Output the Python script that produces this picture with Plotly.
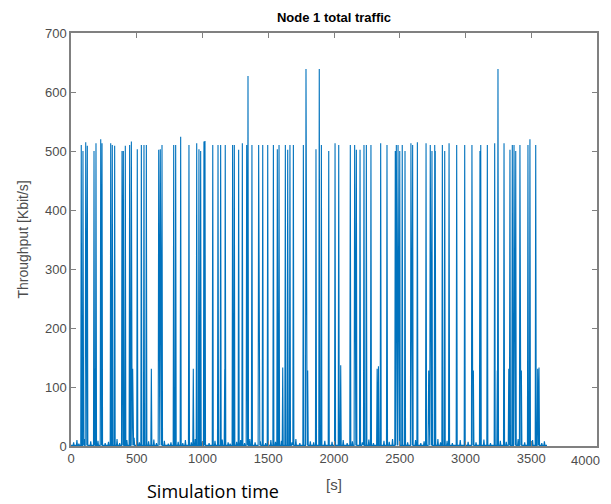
import plotly.graph_objects as go

# Main spikes (~500 Kbit/s level and the few ~630 peaks)
spike_times = [78, 91, 112, 124, 175, 190, 226, 236, 302, 314, 332, 388, 398, 413, 446, 459,
               504, 535, 555, 573, 667, 679, 692, 781, 796, 834, 897, 956, 973, 986, 1011, 1019,
               1078, 1118, 1138, 1173, 1229, 1242, 1275, 1303, 1336, 1346, 1376, 1427, 1458,
               1496, 1539, 1569, 1582, 1630, 1648, 1665, 1691, 1767, 1787, 1863, 1888, 1904,
               1960, 2008, 2036, 2124, 2157, 2170, 2198, 2228, 2246, 2281, 2355, 2403, 2466,
               2474, 2487, 2500, 2519, 2540, 2585, 2598, 2634, 2700, 2732, 2745, 2766, 2770,
               2824, 2842, 2875, 2933, 2994, 3049, 3110, 3116, 3166, 3222, 3247, 3293, 3338,
               3356, 3369, 3382, 3414, 3475, 3490, 3534]
spike_values = [510, 500, 515, 509, 500, 513, 520, 513, 513, 510, 509, 500, 500, 509, 510, 516,
                503, 510, 510, 510, 502, 503, 510, 510, 510, 524, 510, 513, 503, 500, 516, 517,
                510, 510, 510, 510, 510, 510, 502, 513, 510, 627, 510, 510, 510,
                510, 510, 503, 510, 510, 502, 510, 510, 510, 639, 503, 639, 510,
                500, 513, 510, 510, 510, 502, 502, 510, 510, 510, 513, 510, 500,
                510, 510, 500, 510, 500, 513, 510, 515, 513, 510, 500, 510, 500,
                510, 500, 513, 510, 510, 510, 500, 510, 510, 513, 639, 513, 502,
                510, 510, 500, 510, 510, 520, 510]

# Lower spikes (~130 Kbit/s)
low_times = [180, 469, 611, 930, 1169, 1610, 1800, 2051, 2328, 2338, 2720, 3060, 3242, 3329,
             3425, 3549, 3559]
low_values = [131, 131, 131, 131, 130, 133, 128, 137, 131, 135, 128, 128, 128, 131,
              128, 131, 133]

# Small background bumps
bump_times = [20, 45, 60, 100, 150, 205, 260, 285, 350, 370, 425, 480, 520, 590, 630, 650,
              710, 740, 760, 815, 850, 870, 915, 945, 1000, 1050, 1095, 1150, 1195, 1210,
              1260, 1290, 1320, 1360, 1400, 1440, 1480, 1520, 1555, 1600, 1680, 1710, 1740,
              1820, 1845, 1930, 1985, 2070, 2100, 2140, 2215, 2265, 2300, 2380, 2420, 2445,
              2560, 2620, 2660, 2685, 2790, 2810, 2860, 2900, 2960, 3020, 3080, 3140, 3190,
              3265, 3310, 3400, 3450, 3510, 3580, 3600]
bump_values = [6, 10, 4, 12, 8, 9, 5, 7, 12, 5, 10, 14, 6, 8, 11, 5,
               9, 4, 6, 7, 5, 10, 6, 12, 8, 5, 9, 11, 6, 4,
               7, 10, 5, 12, 6, 8, 5, 10, 7, 9, 6, 12, 5,
               8, 6, 9, 7, 10, 5, 8, 6, 11, 5, 9, 7, 12,
               6, 10, 5, 8, 12, 6, 9, 5, 10, 7, 6, 11, 5,
               9, 7, 12, 6, 10, 5, 8]

x_tick_vals = [0, 500, 1000, 1500, 2000, 2500, 3000, 3500, 4000]
x_tick_text = ["0", "500", "1000", "1500", "2000", "2500", "3000", "3500", ""]
last_x_label = "4000"
y_tick_vals = [0, 100, 200, 300, 400, 500, 600, 700]

t_start, t_end, base = 0, 3620, 1
half = 4

events = sorted(zip(spike_times + low_times + bump_times,
                    spike_values + low_values + bump_values))
xs, ys = [t_start], [base]
for t, v in events:
    xs += [t - half, t, t + half]
    ys += [base, v, base]
xs.append(t_end)
ys.append(base)

fig = go.Figure()
fig.add_trace(go.Scatter(x=xs, y=ys, mode="lines",
                         line=dict(color="#0072BD", width=1.1),
                         showlegend=False, hoverinfo="skip"))

tick_font = dict(family="Liberation Sans, Arial", size=13, color="#4d4d4d")
axis_common = dict(showline=True, linecolor="#808080", linewidth=1.5, mirror="ticks",
                   ticks="inside", ticklen=5, tickcolor="#808080", showgrid=False,
                   zeroline=False, tickfont=tick_font)

# page body adds an 8px offset; plot area kept at page x 71..597, y 33..446
W, H = 603, 496
fig.update_layout(
    width=W, height=H,
    margin=dict(l=63, r=W - 589, t=25, b=58, autoexpand=False),
    paper_bgcolor="white", plot_bgcolor="white",
    xaxis=dict(range=[0, 4000], tickvals=x_tick_vals, ticktext=x_tick_text, **axis_common),
    yaxis=dict(range=[0, 700], tickvals=y_tick_vals, **axis_common),
    title=dict(text="<b>Node 1 total traffic</b>", x=0.5, xref="paper",
               y=1 - 9 / H, yref="container", yanchor="middle", xanchor="center",
               font=dict(family="Liberation Sans, Arial", size=13, color="black")),
    annotations=[
        dict(text=last_x_label, xref="x", yref="paper", x=x_tick_vals[-1], y=0,
             xanchor="right", yanchor="middle", xshift=5, yshift=-14, showarrow=False,
             font=tick_font),
        dict(text="[s]", xref="paper", yref="paper", x=0.5, y=-0.094,
             xanchor="center", yanchor="middle", showarrow=False,
             font=dict(family="Liberation Sans, Arial", size=15, color="#4d4d4d")),
        dict(text="Simulation time", xref="paper", yref="paper", x=0.27, y=-0.108,
             xanchor="center", yanchor="middle", showarrow=False,
             font=dict(family="Open Sans", size=18, color="black")),
        dict(text="Throughput [Kbit/s]", xref="paper", yref="paper", x=-0.093, y=0.5,
             xanchor="center", yanchor="middle", showarrow=False, textangle=-90,
             font=dict(family="Liberation Sans, Arial", size=14, color="#4d4d4d")),
    ],
)

fig.write_html("out.html")
